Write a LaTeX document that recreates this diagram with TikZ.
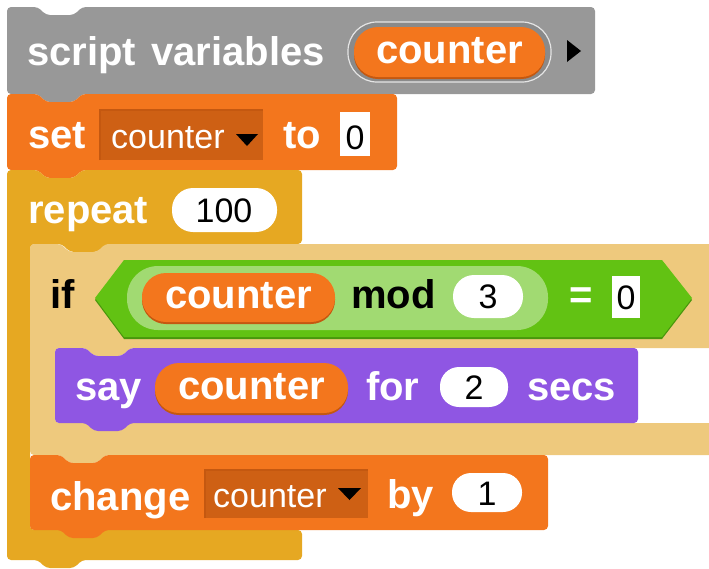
\documentclass[tikz,border=0pt]{standalone}
\usepackage{fontspec}
\setmainfont{Liberation Sans}
\definecolor{VarGray}{RGB}{152,152,152}
\definecolor{SlotGray}{RGB}{138,138,138}
\definecolor{VarOrange}{RGB}{243,118,29}
\definecolor{VarShade}{RGB}{196,88,16}
\definecolor{DropOrange}{RGB}{206,96,20}
\definecolor{CtrlYellow}{RGB}{230,168,34}
\definecolor{CtrlZebra}{RGB}{238,201,125}
\definecolor{OpGreen}{RGB}{98,194,19}
\definecolor{OpShade}{RGB}{72,150,12}
\definecolor{OpZebra}{RGB}{161,218,114}
\definecolor{LooksPurple}{RGB}{143,86,227}
\newcommand{\blkfont}{\fontsize{40}{40}\selectfont\bfseries}
\newcommand{\valfont}{\fontsize{34}{34}\selectfont}
% command block: colour, left, top, right, bottom
\newcommand{\cmdblock}[5]{%
  \fill[#1, rounded corners=4] (#2,#3) -- ++(31,0) -- ++(8,8) -- ++(28,0) -- ++(8,-8)
    -- (#4,#3) -- (#4,#5) -- (#2+75,#5) -- ++(-8,8) -- ++(-28,0) -- ++(-8,-8) -- (#2,#5) -- cycle;}
% orange variable pill: left, top, right, bottom, name
\newcommand{\varpill}[5]{%
  \fill[VarShade, rounded corners=24] (#1,#2+2) rectangle (#3,#4+2);
  \fill[VarOrange, rounded corners=24] (#1,#2) rectangle (#3,#4);
  \node[lbl, anchor=base] (#5) at ({(#1+#3)/2},#4-14) {counter};}
\tikzset{
  lbl/.style={text=white, font=\blkfont, inner sep=0pt, anchor=base west},
  dark/.style={lbl, text=black},
  val/.style={text=black, font=\valfont, inner sep=0pt, anchor=base}
}

\begin{document}
\begin{tikzpicture}[x=1pt, y=-1pt]
  \useasboundingbox (0,0) rectangle (709,568);

  % script variables
  \cmdblock{VarGray}{7}{7}{595}{94}
  \node[lbl] (scriptvars) at (27,65) {script\hspace{4pt} variables};
  \draw[white!75!VarGray, line width=1.2, fill=SlotGray, rounded corners=29] (348,22) rectangle (551,82);
  \varpill{354}{27}{545}{77}{varname}
  \fill[black] (567,40) -- (567,62) -- (581,51) -- cycle;

  % set
  \cmdblock{VarOrange}{7}{94}{397}{170}
  \node[lbl] (setlbl) at (28,148) {set};
  \fill[DropOrange] (100,110) rectangle (263,160);
  \draw[VarShade, line width=1.5] (100,160) -- (100,110) -- (263,110);
  \node[lbl, font=\valfont] (setvar) at (111,148) {counter};
  \fill[black] (236,134) -- (258,134) -- (247,146) -- cycle;
  \node[lbl] (tolbl) at (283,148) {to};
  \fill[white] (340,112) rectangle (370,156);
  \node[val] (setval) at (355,149) {0};

  % repeat
  \fill[CtrlYellow, rounded corners=4] (7,170) -- (38,170) -- (46,178) -- (74,178) -- (82,170)
    -- (302,170) -- (302,244) -- (106,244) -- (98,252) -- (70,252) -- (62,244) -- (30,244)
    -- (30,530) -- (302,530) -- (302,560) -- (82,560) -- (74,568) -- (46,568) -- (38,560)
    -- (7,560) -- cycle;
  \node[lbl] (repeatlbl) at (28,223) {repeat};
  \fill[white, rounded corners=21] (172,188) rectangle (277,232);
  \node[val] (times) at (224,222) {100};

  % if
  \fill[CtrlZebra, rounded corners=4] (30,244) -- (61,244) -- (69,252) -- (97,252) -- (105,244)
    -- (720,244) -- (720,348) -- (130,348) -- (122,356) -- (94,356) -- (86,348) -- (55,348)
    -- (55,423) -- (720,423) -- (720,455) -- (105,455) -- (97,463) -- (69,463) -- (61,455)
    -- (30,455) -- cycle;
  \node[dark] (iflbl) at (50,308) {if};
  \fill[OpShade] (95,300) -- (124,262) -- (662,262) -- (692,300) -- (662,339) -- (124,339) -- cycle;
  \fill[OpGreen] (95,298) -- (124,260) -- (662,260) -- (692,298) -- (662,337) -- (124,337) -- cycle;
  \fill[OpZebra, rounded corners=31] (127,266) rectangle (548,330);
  \varpill{142}{273}{335}{322}{modvar}
  \node[dark] (modlbl) at (351,308) {mod};
  \fill[white, rounded corners=21] (453,275) rectangle (523,318);
  \node[val] (divisor) at (488,308) {3};
  \node[lbl] (eqlbl) at (569,308) {=};
  \fill[white] (612,276) rectangle (640,318);
  \node[val] (zero) at (626,309) {0};

  % say
  \cmdblock{LooksPurple}{55}{348}{638}{423}
  \node[lbl] (saylbl) at (75,400) {say};
  \varpill{155}{363}{348}{413}{sayvar}
  \node[lbl] (forlbl) at (366,400) {for};
  \fill[white, rounded corners=19] (440,367) rectangle (508,407);
  \node[val] (secs) at (474,399) {2};
  \node[lbl] (secslbl) at (527,400) {secs};

  % change
  \cmdblock{VarOrange}{30}{455}{548}{530}
  \node[lbl] (changelbl) at (50,510) {change};
  \fill[DropOrange] (205,470) rectangle (368,518);
  \draw[VarShade, line width=1.5] (205,518) -- (205,470) -- (368,470);
  \node[lbl, font=\valfont] (changevar) at (213,507) {counter};
  \fill[black] (338,488) -- (361,488) -- (349.5,500) -- cycle;
  \node[lbl] (bylbl) at (387,508) {by};
  \fill[white, rounded corners=19] (452,473) rectangle (522,512);
  \node[val] (step) at (487,505) {1};
\end{tikzpicture}
\end{document}
